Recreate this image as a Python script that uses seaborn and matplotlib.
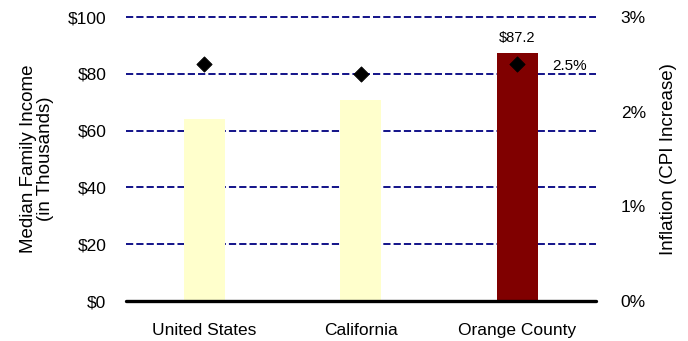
import matplotlib
matplotlib.use("Agg")
import matplotlib.pyplot as plt
import seaborn as sns
import numpy as np
import pandas as pd

regions = ["United States", "California", "Orange County"]
income = [64.1, 70.8, 87.2]          # median family income, $ thousands
inflation = [2.5, 2.4, 2.5]          # CPI increase, percent
bar_colors = ["#FFFFCC", "#FFFFCC", "#800000"]

sns.set_theme(style="white")
plt.rcParams["font.family"] = ["Liberation Sans", "DejaVu Sans"]

df = pd.DataFrame({"region": regions, "income": income})

fig = plt.figure(figsize=(6.88, 3.41), dpi=100)
ax = fig.add_axes([0.183, 0.117, 0.683, 0.833])

sns.barplot(data=df, x="region", y="income", hue="region",
            palette=bar_colors, width=0.26, legend=False, ax=ax,
            edgecolor="none", saturation=1)

ax.set_ylim(0, 100)
ax.set_xlim(-0.5, 2.5)
ax.set_yticks(np.arange(0, 101, 20))
ax.set_yticklabels([f"${v}" for v in range(0, 101, 20)], fontsize=12.5, color="black")
ax.set_xticks(range(len(regions)))
ax.set_xticklabels(regions, fontsize=12.5, color="black")
ax.tick_params(axis="x", length=0, pad=16)
ax.tick_params(axis="y", length=0, pad=14)
ax.set_xlabel("")
ax.set_ylabel("Median Family Income\n(in Thousands)", fontsize=13.5, color="black",
              labelpad=10, linespacing=1.0)

for v in range(20, 101, 20):
    ax.axhline(v, color="#000080", linestyle=(0, (4, 1.7)), linewidth=1.3,
               zorder=0, clip_on=False)
ax.axhline(0, color="black", linewidth=2.4, zorder=3, clip_on=False)
for s in ["left", "right", "top", "bottom"]:
    ax.spines[s].set_visible(False)

ax.text(2, income[2] + 3, f"${income[2]:.1f}", ha="center", va="bottom",
        fontsize=10.5, color="black")

ax2 = ax.twinx()
sns.scatterplot(x=np.arange(len(regions)), y=inflation, marker="D", s=60,
                color="black", edgecolor="black", ax=ax2, zorder=5)
ax2.set_ylim(0, 3)
ax2.set_yticks([0, 1, 2, 3])
ax2.set_yticklabels([f"{v}%" for v in range(4)], fontsize=12.5, color="black")
ax2.tick_params(axis="y", length=0, pad=18)
ax2.set_ylabel("Inflation (CPI Increase)", fontsize=13.5, color="black", labelpad=10)
for s in ["left", "right", "top", "bottom"]:
    ax2.spines[s].set_visible(False)
ax2.grid(False)
ax2.text(2.22, inflation[2] - 0.02, f"{inflation[2]}%", ha="left", va="center",
         fontsize=11, color="black")

fig.savefig("out.png", dpi=100)
